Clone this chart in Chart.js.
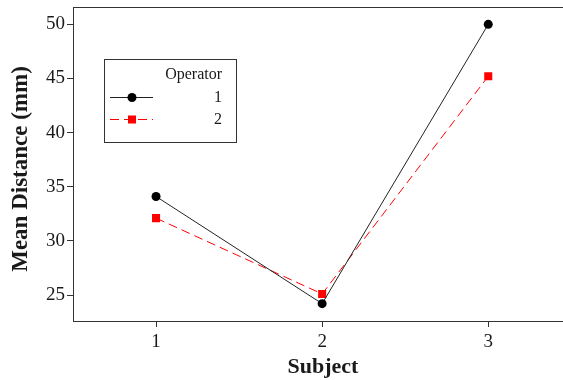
<!DOCTYPE html>
<html>
<head>
<meta charset="utf-8">
<script src="https://cdn.jsdelivr.net/npm/chart.js@4/dist/chart.umd.min.js"></script>
<style>
  html, body { margin: 0; padding: 0; background: #fff; overflow: hidden; }
  /* the frame of the plot runs past the right edge of the 563px picture */
  #wrap { width: 577px; height: 380px; }
</style>
</head>
<body>
<div id="wrap"><canvas id="chart"></canvas></div>
<script>
const subjects = [1, 2, 3];
const operator1 = [34.1, 24.2, 50.0];
const operator2 = [32.1, 25.1, 45.2];
const yTicks = [25, 30, 35, 40, 45, 50];
const xTitle = 'Subject';
const yTitle = 'Mean Distance (mm)';
const legendTitle = 'Operator';
const seriesNames = ['1', '2'];

const serif = '"Liberation Serif", "Times New Roman", serif';
Chart.defaults.font.family = serif;
Chart.defaults.color = '#1a1a1a';

// top edge of the frame, axis titles and the boxed legend
const framePlugin = {
    id: 'frame',
    afterDraw(chart) {
        const { ctx, chartArea: a } = chart;
        ctx.save();
        ctx.strokeStyle = '#333';
        ctx.lineWidth = 1;
        const top = Math.round(a.top) + 0.5;
        ctx.beginPath();
        ctx.moveTo(a.left, top);
        ctx.lineTo(a.right, top);
        ctx.lineTo(a.right, a.bottom);
        ctx.stroke();

        ctx.fillStyle = '#1a1a1a';
        ctx.textAlign = 'center';
        ctx.textBaseline = 'middle';
        ctx.font = 'bold 22px ' + serif;
        ctx.fillText(xTitle, 323, 367);
        ctx.save();
        ctx.translate(21, 169);
        ctx.rotate(-Math.PI / 2);
        ctx.font = 'bold 23px ' + serif;
        ctx.fillText(yTitle, 0, 0);
        ctx.restore();

        // legend box
        const bx = 104.5, by = 59.5, bw = 132, bh = 83;
        ctx.fillStyle = '#fff';
        ctx.fillRect(bx, by, bw, bh);
        ctx.strokeRect(bx, by, bw, bh);
        ctx.fillStyle = '#1a1a1a';
        ctx.font = '16px ' + serif;
        ctx.textAlign = 'right';
        ctx.fillText(legendTitle, 222, 75);

        const rows = [97, 119];
        chart.data.datasets.forEach((ds, i) => {
            const y = rows[i];
            ctx.strokeStyle = ds.borderColor;
            ctx.lineWidth = 1;
            ctx.setLineDash(ds.borderDash || []);
            ctx.beginPath();
            ctx.moveTo(110, y + 0.5);
            ctx.lineTo(153, y + 0.5);
            ctx.stroke();
            ctx.setLineDash([]);
            ctx.fillStyle = ds.pointBackgroundColor;
            if (ds.pointStyle === 'rect') {
                ctx.fillRect(128, y - 3.5, 8, 8);
            } else {
                ctx.beginPath();
                ctx.arc(132, y + 0.5, 4.5, 0, Math.PI * 2);
                ctx.fill();
            }
            ctx.fillStyle = '#1a1a1a';
            ctx.fillText(seriesNames[i], 222, y + 1);
        });
        ctx.restore();
    }
};

const toPoints = (vals) => vals.map((v, i) => ({ x: subjects[i], y: v }));

new Chart(document.getElementById('chart'), {
    type: 'line',
    data: {
        datasets: [
            {
                label: seriesNames[0],
                data: toPoints(operator1),
                borderColor: '#222',
                borderWidth: 1,
                pointStyle: 'circle',
                pointRadius: 4.5,
                pointBackgroundColor: '#000',
                pointBorderWidth: 0,
                tension: 0,
            },
            {
                label: seriesNames[1],
                data: toPoints(operator2),
                borderColor: '#ff0000',
                borderWidth: 1,
                borderDash: [9, 5],
                pointStyle: 'rect',
                pointRadius: 5.7,
                pointBackgroundColor: '#ff0000',
                pointBorderWidth: 0,
                tension: 0,
            },
        ],
    },
    options: {
        responsive: true,
        maintainAspectRatio: false,
        animation: false,
        layout: { padding: { top: 7, left: 0, right: 0, bottom: 0 } },
        plugins: { legend: { display: false }, tooltip: { enabled: false } },
        scales: {
            x: {
                type: 'linear',
                min: 0.5,
                max: 3.5,
                afterBuildTicks: (s) => { s.ticks = subjects.map((v) => ({ value: v })); },
                grid: { drawOnChartArea: false, drawTicks: true, tickLength: 6, color: '#333' },
                border: { color: '#333' },
                ticks: { font: { size: 19 }, padding: 4, maxRotation: 0 },
                afterFit: (s) => {
                    s.height = 59;
                    s.paddingLeft = 0;
                    s.paddingRight = 0;
                },
            },
            y: {
                min: 22.6,
                max: 51.6,
                afterBuildTicks: (s) => { s.ticks = yTicks.map((v) => ({ value: v })); },
                grid: { drawOnChartArea: false, drawTicks: true, tickLength: 6, color: '#333' },
                border: { color: '#333' },
                ticks: { font: { size: 19 }, padding: 2 },
                afterFit: (s) => {
                    s.width = 73;
                    s.paddingTop = 0;
                    s.paddingBottom = 0;
                },
            },
        },
    },
    plugins: [framePlugin],
});
</script>
</body>
</html>
